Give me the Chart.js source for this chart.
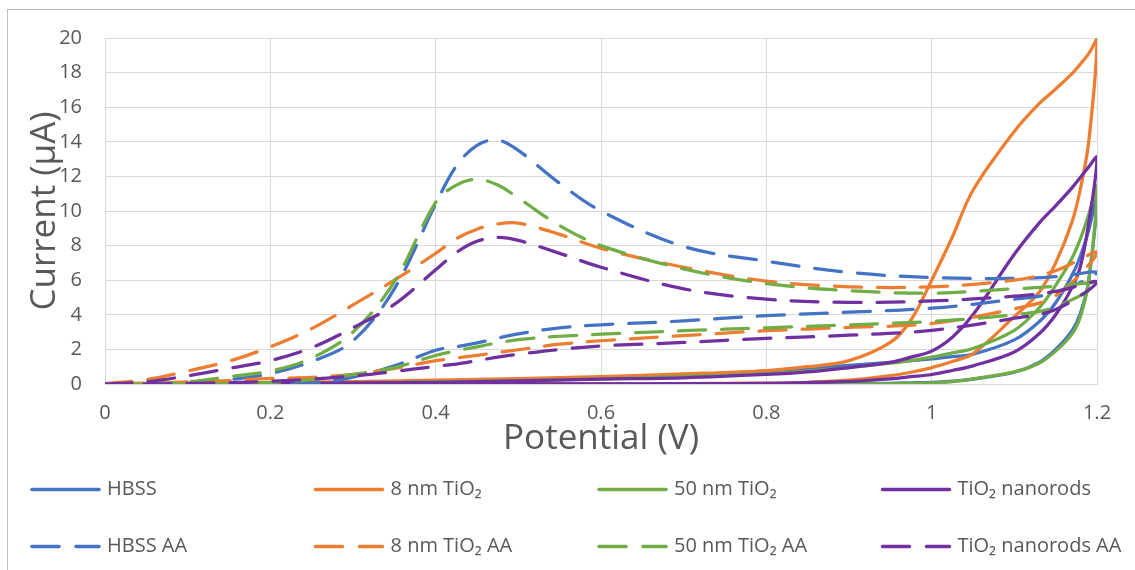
<!DOCTYPE html>
<html>
<head>
<meta charset="utf-8">
<script src="https://cdn.jsdelivr.net/npm/chart.js@4.4.0/dist/chart.umd.min.js"></script>
<style>
  body { margin: 0; background: #fff; }
</style>
</head>
<body>
<canvas id="cv" width="1135" height="570"></canvas>
<script>
// potentials (V) at which the currents were read, forward scan
var potBare = [0, 0.2, 0.4, 0.6, 0.7, 0.8, 0.85, 0.9, 0.95, 0.975, 1.0, 1.025, 1.05, 1.1, 1.13, 1.15, 1.17, 1.18, 1.19, 1.2];
var potAA = [0, 0.05, 0.1, 0.15, 0.2, 0.25, 0.3, 0.35, 0.4, 0.425, 0.45, 0.475, 0.5, 0.55, 0.6, 0.7, 0.8, 0.9, 1.0, 1.1, 1.15, 1.2];

var xTicks = [0, 0.2, 0.4, 0.6, 0.8, 1, 1.2];
var yTicks = [0, 2, 4, 6, 8, 10, 12, 14, 16, 18, 20];

var labels = ['HBSS', '8 nm TiO₂', '50 nm TiO₂', 'TiO₂ nanorods',
              'HBSS AA', '8 nm TiO₂ AA', '50 nm TiO₂ AA', 'TiO₂ nanorods AA'];
var colors = ['#4472C4', '#ED7D31', '#70AD47', '#7030A0'];

// current (µA): "Fwd" = 0 -> 1.2 V, "Rev" = 1.2 -> 0 V (listed at the same potentials)
var hbssFwd  = [0, 0.05, 0.15, 0.33, 0.5, 0.75, 0.9, 1.08, 1.25, 1.35, 1.45, 1.58, 1.72, 2.55, 3.6, 4.7, 6.3, 7.4, 8.9, 10.8];
var hbssRev  = [0, 0, 0, 0, 0, 0, 0.01, 0.02, 0.04, 0.07, 0.1, 0.17, 0.28, 0.68, 1.25, 2.0, 3.1, 4.1, 6.0, 10.8];
var tio8Fwd  = [0, 0.08, 0.22, 0.42, 0.58, 0.78, 1.0, 1.35, 2.4, 3.7, 6.0, 8.5, 11.2, 14.6, 16.2, 17.05, 17.95, 18.5, 19.1, 19.95];
var tio8Rev  = [0, 0, 0, 0.01, 0.02, 0.05, 0.1, 0.22, 0.48, 0.68, 0.95, 1.3, 1.75, 3.9, 5.3, 7.0, 9.4, 11.3, 14.0, 19.95];
var tio50Fwd = [0, 0.03, 0.12, 0.3, 0.42, 0.6, 0.75, 0.95, 1.2, 1.35, 1.55, 1.8, 2.05, 3.1, 4.4, 5.7, 7.3, 8.4, 9.8, 11.4];
var tio50Rev = [0, 0, 0, 0, 0, 0, 0, 0, 0.01, 0.03, 0.06, 0.14, 0.3, 0.7, 1.2, 1.9, 2.9, 3.9, 6.0, 11.4];
var rodsFwd  = [0, 0.04, 0.1, 0.28, 0.36, 0.55, 0.7, 0.95, 1.25, 1.55, 1.9, 2.7, 4.0, 7.5, 9.3, 10.3, 11.35, 11.95, 12.55, 13.1];
var rodsRev  = [0, 0, 0, 0.01, 0.02, 0.04, 0.08, 0.15, 0.3, 0.42, 0.55, 0.78, 1.05, 1.85, 2.9, 4.0, 5.6, 6.8, 9.3, 13.1];

var hbssAAFwd  = [0, 0, 0.05, 0.25, 0.6, 1.3, 2.5, 5.5, 10.4, 12.6, 13.8, 14.1, 13.5, 11.6, 10.0, 7.95, 7.1, 6.45, 6.15, 6.1, 6.2, 6.45];
var hbssAARev  = [0, 0, 0, 0, 0, 0.02, 0.4, 1.05, 1.95, 2.15, 2.38, 2.65, 2.9, 3.25, 3.42, 3.65, 3.95, 4.15, 4.38, 4.9, 5.3, 6.45];
var tio8AAFwd  = [0.02, 0.25, 0.75, 1.32, 2.15, 3.2, 4.57, 6.0, 7.55, 8.4, 8.95, 9.25, 9.3, 8.65, 7.84, 6.75, 5.95, 5.62, 5.62, 6.0, 6.55, 7.6];
var tio8AARev  = [0.02, 0.05, 0.12, 0.2, 0.32, 0.38, 0.56, 0.9, 1.35, 1.5, 1.66, 1.82, 1.98, 2.3, 2.5, 2.8, 3.08, 3.27, 3.5, 4.35, 5.1, 7.6];
var tio50AAFwd = [0, 0, 0.12, 0.42, 0.75, 1.5, 3.0, 5.9, 10.5, 11.5, 11.83, 11.5, 10.75, 9.15, 8.0, 6.65, 5.8, 5.4, 5.25, 5.5, 5.65, 5.8];
var tio50AARev = [0, 0, 0, 0.02, 0.1, 0.25, 0.55, 0.95, 1.65, 1.92, 2.15, 2.38, 2.56, 2.76, 2.88, 3.08, 3.25, 3.42, 3.62, 4.0, 4.45, 5.8];
var rodsAAFwd  = [0, 0.13, 0.47, 0.9, 1.35, 2.1, 3.25, 4.6, 6.6, 7.6, 8.25, 8.47, 8.3, 7.55, 6.75, 5.5, 4.9, 4.72, 4.8, 5.08, 5.35, 5.9];
var rodsAARev  = [0, 0, 0.03, 0.08, 0.16, 0.28, 0.46, 0.72, 1.02, 1.15, 1.35, 1.55, 1.72, 2.0, 2.2, 2.4, 2.64, 2.82, 3.1, 3.8, 4.3, 5.9];

// one closed loop: forward scan, then back down the reverse scan
function loop(pot, fwd, rev) {
  var pts = pot.map(function (v, k) { return {x: v, y: fwd[k]}; });
  for (var k = pot.length - 2; k >= 0; k--) pts.push({x: pot[k], y: rev[k]});
  return pts;
}

var curves = [
  loop(potBare, hbssFwd, hbssRev), loop(potBare, tio8Fwd, tio8Rev),
  loop(potBare, tio50Fwd, tio50Rev), loop(potBare, rodsFwd, rodsRev),
  loop(potAA, hbssAAFwd, hbssAARev), loop(potAA, tio8AAFwd, tio8AARev),
  loop(potAA, tio50AAFwd, tio50AARev), loop(potAA, rodsAAFwd, rodsAARev)
];

var dash = [27, 16];
var datasets = curves.map(function (pts, i) {
  return {
    label: labels[i],
    data: pts,
    showLine: true,
    borderColor: colors[i % 4],
    borderWidth: 3.25,
    borderDash: i >= 4 ? dash : [],
    borderCapStyle: 'round',
    borderJoinStyle: 'round',
    pointRadius: 0,
    tension: 0.35,
    order: 7 - i
  };
});

var frame = {
  id: 'frame',
  beforeDraw: function (chart) {
    var ctx = chart.ctx;
    ctx.save();
    ctx.strokeStyle = '#bfbfbf';
    ctx.lineWidth = 1;
    ctx.strokeRect(7.5, 9.5, 1300, 700);
    ctx.restore();
  }
};

// Excel style legend: 4 equal columns, 2 rows
var gridLegend = {
  id: 'gridLegend',
  afterDraw: function (chart) {
    var ctx = chart.ctx;
    ctx.save();
    ctx.font = '20px "Open Sans"';
    ctx.textBaseline = 'middle';
    chart.data.datasets.forEach(function (ds, i) {
      var x = 32 + (i % 4) * 283.5;
      var y = 489.5 + Math.floor(i / 4) * 57;
      ctx.strokeStyle = ds.borderColor;
      ctx.lineWidth = 3.5;
      ctx.lineCap = 'round';
      ctx.setLineDash(ds.borderDash.length ? [27, 17] : []);
      ctx.beginPath();
      ctx.moveTo(x, y);
      ctx.lineTo(x + 67, y);
      ctx.stroke();
      ctx.setLineDash([]);
      ctx.fillStyle = '#595959';
      ctx.fillText(ds.label, x + 75, y);
    });
    ctx.restore();
  }
};

Chart.defaults.font.family = '"Open Sans", sans-serif';
Chart.defaults.color = '#595959';

new Chart(document.getElementById('cv'), {
  type: 'scatter',
  data: { datasets: datasets },
  plugins: [frame, gridLegend],
  options: {
    responsive: false,
    animation: false,
    layout: { padding: { left: 24, top: 38, right: 38, bottom: 100 } },
    plugins: {
      legend: { display: false },
      tooltip: { enabled: false }
    },
    scales: {
      x: {
        type: 'linear',
        min: 0,
        max: 1.2,
        afterBuildTicks: function (s) { s.ticks = xTicks.map(function (v) { return {value: v}; }); },
        afterFit: function (s) { s.height = 86; },
        ticks: { padding: 17, font: { size: 20 }, color: '#595959',
                 callback: function (v) { return String(+v.toFixed(1)); } },
        grid: { color: '#d9d9d9', drawTicks: false },
        border: { color: '#d9d9d9' },
        title: { display: true, text: 'Potential (V)', font: { size: 35 }, color: '#595959',
                 padding: { top: 0, bottom: 10 } }
      },
      y: {
        min: 0,
        max: 20,
        afterBuildTicks: function (s) { s.ticks = yTicks.map(function (v) { return {value: v}; }); },
        afterFit: function (s) { s.width = 81; },
        ticks: { padding: 23, font: { size: 20 }, color: '#595959' },
        grid: { color: '#d9d9d9', drawTicks: false },
        border: { color: '#d9d9d9' },
        title: { display: true, text: 'Current (µA)', font: { size: 35 }, color: '#595959',
                 padding: { top: 0, bottom: 0 } }
      }
    }
  }
});
</script>
</body>
</html>
